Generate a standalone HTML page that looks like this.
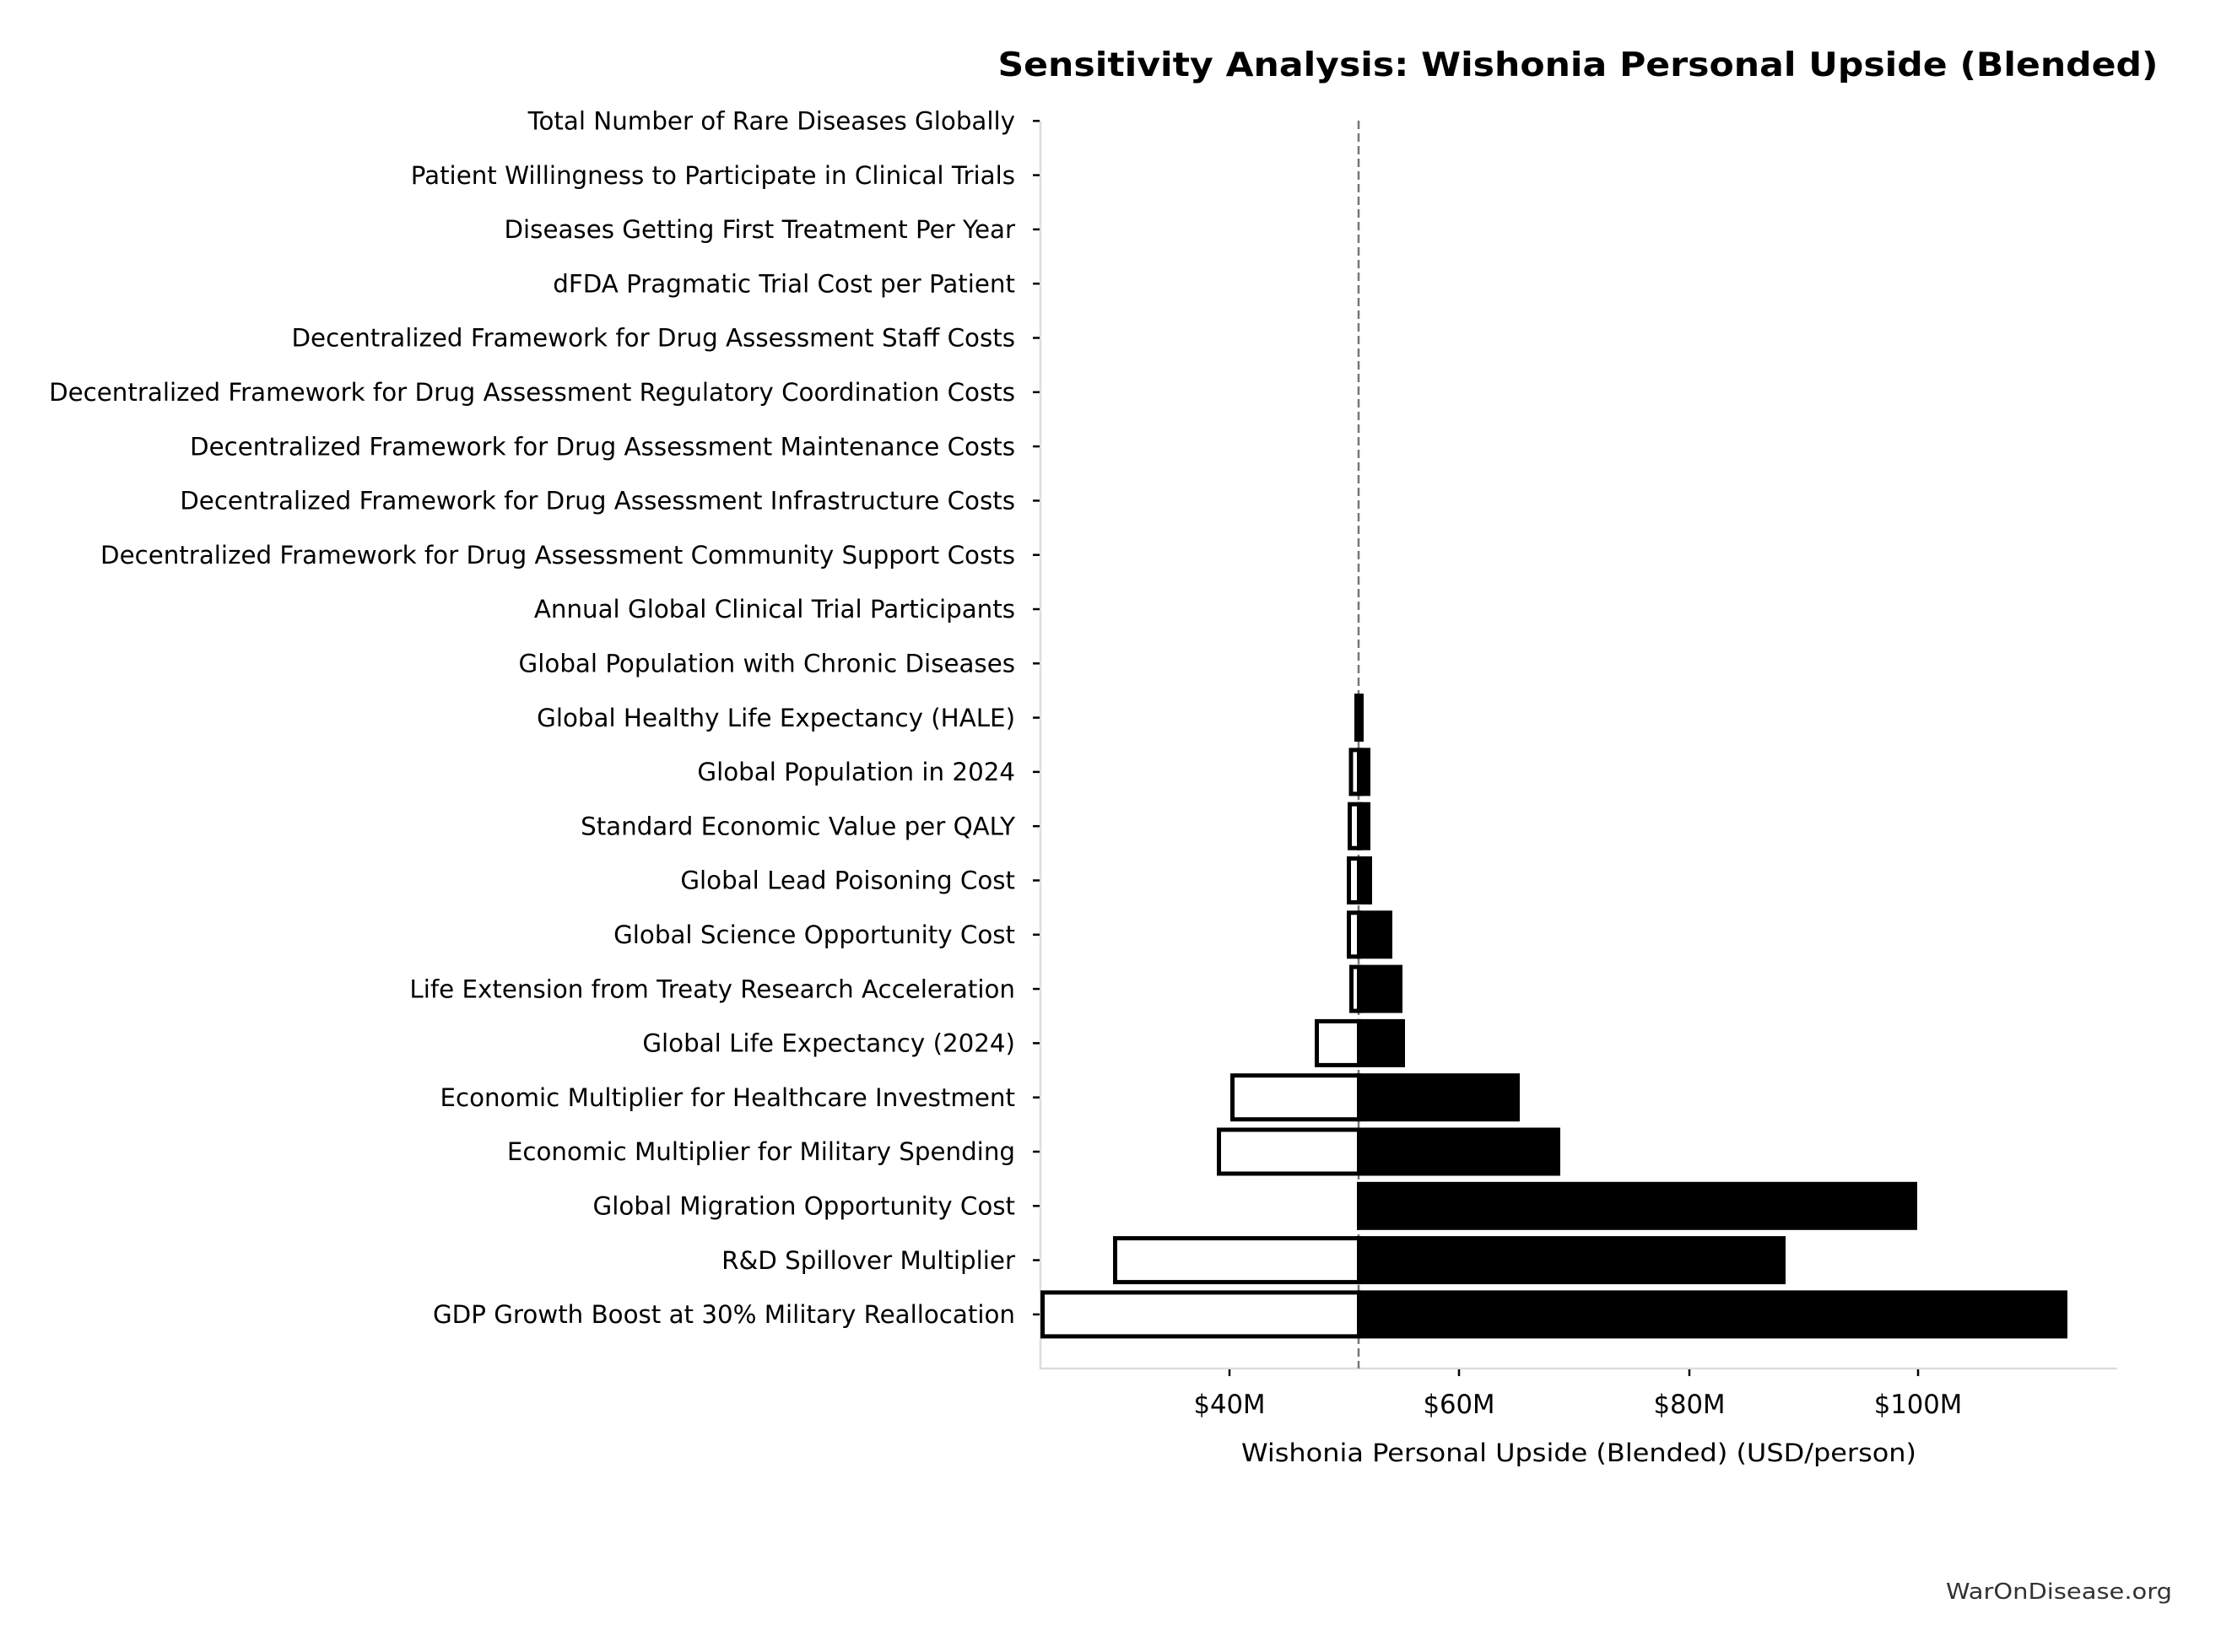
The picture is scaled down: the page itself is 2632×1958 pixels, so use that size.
<!DOCTYPE html>
<html><head><meta charset="utf-8"><style>
html,body{margin:0;padding:0;background:#fff;}
svg{display:block;}
text{font-family:"DejaVu Sans","Liberation Sans",sans-serif;}
</style></head><body>
<svg width="2632" height="1958" viewBox="0 0 2632 1958" xmlns="http://www.w3.org/2000/svg">
<rect width="2632" height="1958" fill="#fff"/>
<text x="1870" y="90" text-anchor="middle" font-size="39" font-weight="bold" textLength="1375" lengthAdjust="spacingAndGlyphs">Sensitivity Analysis: Wishonia Personal Upside (Blended)</text>

<line x1="1233" y1="143" x2="1233" y2="1623" stroke="#dddddd" stroke-width="2.5"/>
<line x1="1232" y1="1622" x2="2509" y2="1622" stroke="#dddddd" stroke-width="2.5"/>

<line x1="1610" y1="143" x2="1610" y2="1622" stroke="#777" stroke-width="2.5" stroke-dasharray="10,5"/>

<g font-size="29.3" text-anchor="end" fill="#000">
<text x="1203" y="153.5">Total Number of Rare Diseases Globally</text>
<text x="1203" y="217.8">Patient Willingness to Participate in Clinical Trials</text>
<text x="1203" y="282.1">Diseases Getting First Treatment Per Year</text>
<text x="1203" y="346.4">dFDA Pragmatic Trial Cost per Patient</text>
<text x="1203" y="410.7">Decentralized Framework for Drug Assessment Staff Costs</text>
<text x="1203" y="475">Decentralized Framework for Drug Assessment Regulatory Coordination Costs</text>
<text x="1203" y="539.3">Decentralized Framework for Drug Assessment Maintenance Costs</text>
<text x="1203" y="603.6">Decentralized Framework for Drug Assessment Infrastructure Costs</text>
<text x="1203" y="667.9">Decentralized Framework for Drug Assessment Community Support Costs</text>
<text x="1203" y="732.2">Annual Global Clinical Trial Participants</text>
<text x="1203" y="796.5">Global Population with Chronic Diseases</text>
<text x="1203" y="860.8">Global Healthy Life Expectancy (HALE)</text>
<text x="1203" y="925.1">Global Population in 2024</text>
<text x="1203" y="989.4">Standard Economic Value per QALY</text>
<text x="1203" y="1053.7">Global Lead Poisoning Cost</text>
<text x="1203" y="1118">Global Science Opportunity Cost</text>
<text x="1203" y="1182.3">Life Extension from Treaty Research Acceleration</text>
<text x="1203" y="1246.6">Global Life Expectancy (2024)</text>
<text x="1203" y="1310.9">Economic Multiplier for Healthcare Investment</text>
<text x="1203" y="1375.2">Economic Multiplier for Military Spending</text>
<text x="1203" y="1439.5">Global Migration Opportunity Cost</text>
<text x="1203" y="1503.8">R&amp;D Spillover Multiplier</text>
<text x="1203" y="1568.1">GDP Growth Boost at 30% Military Reallocation</text>
</g>

<g stroke="#000" stroke-width="2.5">
<line x1="1224" x2="1232" y1="143.3" y2="143.3"/>
<line x1="1224" x2="1232" y1="207.6" y2="207.6"/>
<line x1="1224" x2="1232" y1="271.9" y2="271.9"/>
<line x1="1224" x2="1232" y1="336.2" y2="336.2"/>
<line x1="1224" x2="1232" y1="400.5" y2="400.5"/>
<line x1="1224" x2="1232" y1="464.8" y2="464.8"/>
<line x1="1224" x2="1232" y1="529.1" y2="529.1"/>
<line x1="1224" x2="1232" y1="593.4" y2="593.4"/>
<line x1="1224" x2="1232" y1="657.7" y2="657.7"/>
<line x1="1224" x2="1232" y1="722" y2="722"/>
<line x1="1224" x2="1232" y1="786.3" y2="786.3"/>
<line x1="1224" x2="1232" y1="850.6" y2="850.6"/>
<line x1="1224" x2="1232" y1="914.9" y2="914.9"/>
<line x1="1224" x2="1232" y1="979.2" y2="979.2"/>
<line x1="1224" x2="1232" y1="1043.5" y2="1043.5"/>
<line x1="1224" x2="1232" y1="1107.8" y2="1107.8"/>
<line x1="1224" x2="1232" y1="1172.1" y2="1172.1"/>
<line x1="1224" x2="1232" y1="1236.4" y2="1236.4"/>
<line x1="1224" x2="1232" y1="1300.7" y2="1300.7"/>
<line x1="1224" x2="1232" y1="1365" y2="1365"/>
<line x1="1224" x2="1232" y1="1429.3" y2="1429.3"/>
<line x1="1224" x2="1232" y1="1493.6" y2="1493.6"/>
<line x1="1224" x2="1232" y1="1557.9" y2="1557.9"/>
</g>

<g fill="#fff" stroke="#000" stroke-width="5">
<rect x="1601" y="888.9" width="12" height="52"/>
<rect x="1599.5" y="953.2" width="12" height="52"/>
<rect x="1598.5" y="1017.5" width="13" height="52"/>
<rect x="1598.5" y="1081.8" width="13" height="52"/>
<rect x="1601.5" y="1146.1" width="10" height="52"/>
<rect x="1560.5" y="1210.4" width="50" height="52"/>
<rect x="1460.5" y="1274.7" width="150" height="52"/>
<rect x="1444.5" y="1339" width="166" height="52"/>
<rect x="1321.5" y="1467.6" width="289" height="52"/>
<rect x="1235.5" y="1531.9" width="375" height="52"/>
</g>

<g fill="#000">
<rect x="1605" y="822.1" width="11" height="57"/>
<rect x="1608" y="886.4" width="16" height="57"/>
<rect x="1608" y="950.7" width="16" height="57"/>
<rect x="1608" y="1015" width="18" height="57"/>
<rect x="1608" y="1079.3" width="42" height="57"/>
<rect x="1608" y="1143.6" width="54" height="57"/>
<rect x="1608" y="1207.9" width="57" height="57"/>
<rect x="1608" y="1272.2" width="193" height="57"/>
<rect x="1608" y="1336.5" width="241" height="57"/>
<rect x="1608" y="1400.8" width="664" height="57"/>
<rect x="1608" y="1465.1" width="508" height="57"/>
<rect x="1608" y="1529.4" width="842" height="57"/>
</g>

<g stroke="#000" stroke-width="2.5">
<line x1="1457" x2="1457" y1="1623" y2="1631"/>
<line x1="1729" x2="1729" y1="1623" y2="1631"/>
<line x1="2002" x2="2002" y1="1623" y2="1631"/>
<line x1="2273" x2="2273" y1="1623" y2="1631"/>
</g>
<g font-size="30.7" text-anchor="middle">
<text x="1457" y="1675">$40M</text>
<text x="1729" y="1675">$60M</text>
<text x="2002" y="1675">$80M</text>
<text x="2273" y="1675">$100M</text>
</g>
<text x="1871" y="1732" text-anchor="middle" font-size="29" textLength="800" lengthAdjust="spacingAndGlyphs">Wishonia Personal Upside (Blended) (USD/person)</text>

<text x="2574" y="1895" text-anchor="end" font-size="26" fill="#333" textLength="268" lengthAdjust="spacingAndGlyphs">WarOnDisease.org</text>
</svg>
</body></html>
